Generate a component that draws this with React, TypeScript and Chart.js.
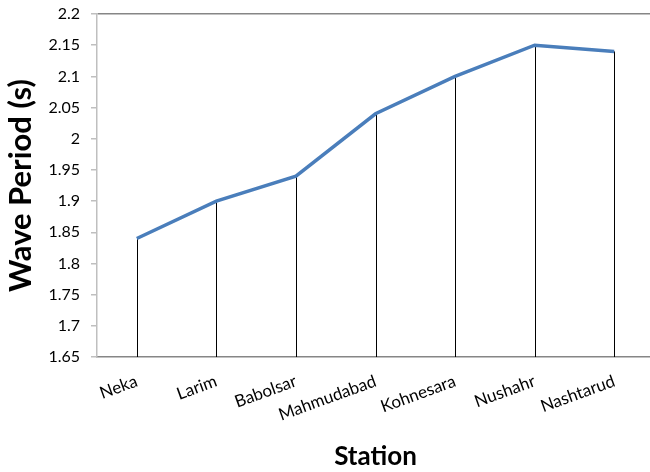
import React, { useEffect, useRef } from "react";
import { Chart, registerables } from "chart.js";

Chart.register(...registerables);

const stations = ["Neka", "Larim", "Babolsar", "Mahmudabad", "Kohnesara", "Nushahr", "Nashtarud"];
const wavePeriod = [1.84, 1.9, 1.94, 2.04, 2.1, 2.15, 2.14];
const yMin = 1.65;
const yMax = 2.2;
const yStep = 0.05;

const FONT = "Lato, 'Open Sans', sans-serif";

const dropLines = {
  id: "dropLines",
  beforeDatasetsDraw(chart: any) {
    const { ctx, chartArea } = chart;
    const meta = chart.getDatasetMeta(0);
    ctx.save();
    ctx.strokeStyle = "#000000";
    ctx.lineWidth = 1;
    meta.data.forEach((pt: any) => {
      const x = Math.round(pt.x) + 0.5;
      ctx.beginPath();
      ctx.moveTo(x, pt.y);
      ctx.lineTo(x, chartArea.bottom);
      ctx.stroke();
    });
    ctx.restore();
  },
};

export default function App() {
  const ref = useRef<HTMLCanvasElement | null>(null);
  useEffect(() => {
    document.body.style.margin = "0";
    document.body.style.overflow = "hidden";
    const chart = new Chart(ref.current as HTMLCanvasElement, {
      type: "line",
      data: {
        labels: stations,
        datasets: [
          {
            data: wavePeriod,
            borderColor: "#4a7ebb",
            borderWidth: 3.5,
            pointRadius: 0,
            tension: 0,
            fill: false,
          },
        ],
      },
      options: {
        animation: false,
        responsive: false,
        maintainAspectRatio: false,
        layout: { padding: { top: 14, right: 0, left: 0, bottom: 0 } },
        plugins: { legend: { display: false }, tooltip: { enabled: false } },
        scales: {
          x: {
            offset: true,
            grid: { display: true, color: "transparent", drawTicks: false },
            border: { display: true, color: "#868686", width: 1.5 },
            ticks: {
              color: "#000000",
              font: { family: FONT, size: 17 },
              maxRotation: 20,
              minRotation: 20,
              autoSkip: false,
              padding: 14,
            },
            title: {
              display: true,
              text: "Station",
              color: "#000000",
              font: { family: FONT, size: 26, weight: "bold", lineHeight: 1 },
              padding: { top: 0, bottom: 2 },
            },
            afterFit(scale: any) {
              scale.height = 115;
            },
          },
          y: {
            min: yMin,
            max: yMax,
            ticks: {
              stepSize: yStep,
              color: "#000000",
              font: { family: FONT, size: 16, lineHeight: 0.3 },
              padding: 11,
              callback: (v: any) => String(Math.round(Number(v) * 100) / 100),
            },
            grid: {
              color: (c: any) => (c.index === 11 ? "#868686" : "transparent"),
              lineWidth: 1.5,
              tickColor: "#bfbfbf",
              tickLength: 6,
              drawTicks: true,
            },
            border: { display: true, color: "#bfbfbf", width: 1.5 },
            title: {
              display: true,
              text: "Wave Period (s)",
              color: "#000000",
              font: { family: FONT, size: 31, weight: "bold", lineHeight: 1 },
              padding: { top: 5, bottom: 0 },
            },
            afterFit(scale: any) {
              scale.width = 97;
            },
          },
        },
      },
      plugins: [dropLines],
    });
    return () => chart.destroy();
  }, []);
  return (
    <div style={{ width: 650, height: 472, overflow: "hidden", background: "#fff" }}>
      <canvas ref={ref} width={654} height={472} style={{ display: "block" }} />
    </div>
  );
}
